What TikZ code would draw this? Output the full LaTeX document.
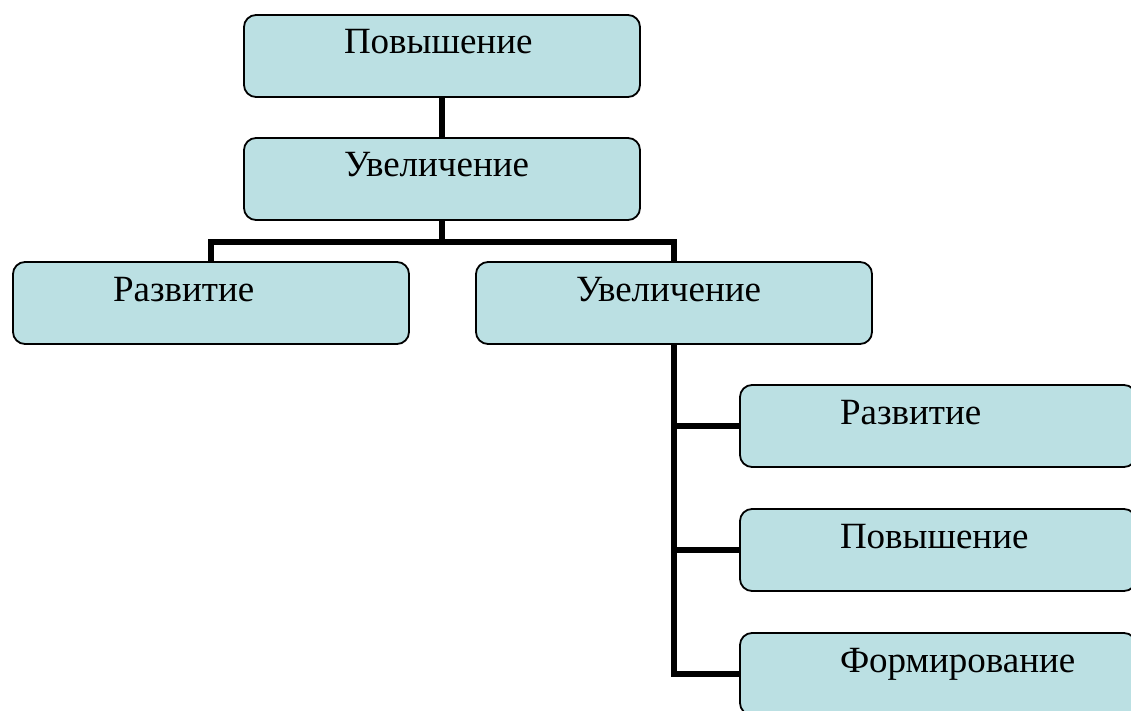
\documentclass[tikz,border=0pt]{standalone}
\usepackage{fontspec}
\setmainfont{Liberation Serif}
\definecolor{boxfill}{HTML}{BBE0E3}
\tikzset{
  x=1pt, y=-1pt,
  box/.style={rectangle, draw=black, line width=1.8pt, fill=boxfill,
    rounded corners=12pt, inner sep=0pt, outer sep=0pt, anchor=north west,
    minimum width=396pt, minimum height=82pt,
    text width=396pt, text height=39pt, text depth=43pt, align=left,
    font=\fontsize{37}{42}\selectfont},
  link/.style={draw=black, line width=5.5pt}
}
\begin{document}
\begin{tikzpicture}
\useasboundingbox (0,0) rectangle (1131,711);
\clip (0,0) rectangle (1131,711);
\node[box] (b1) at (244,15) {\hspace*{100pt}Повышение};
\node[box] (b2) at (244,138) {\hspace*{100pt}Увеличение};
\node[box] (b3) at (13,262) {\hspace*{100pt}Развитие};
\node[box] (b4) at (476,262) {\hspace*{100pt}Увеличение};
\node[box] (b5) at (740,385) {\hspace*{100pt}Развитие};
\node[box] (b6) at (740,509) {\hspace*{100pt}Повышение};
\node[box] (b7) at (740,633) {\hspace*{100pt}Формирование};
\coordinate (j) at (442,242);
\draw[link] (b1.south) -- (b2.north);
\draw[link] (b2.south) -- (j);
\draw[link] (b3.north) |- (j) -| (b4.north);
\draw[link] (b4.south) |- (b7.west);
\draw[link] (b4.south |- b5.west) -- (b5.west);
\draw[link] (b4.south |- b6.west) -- (b6.west);
\end{tikzpicture}
\end{document}
